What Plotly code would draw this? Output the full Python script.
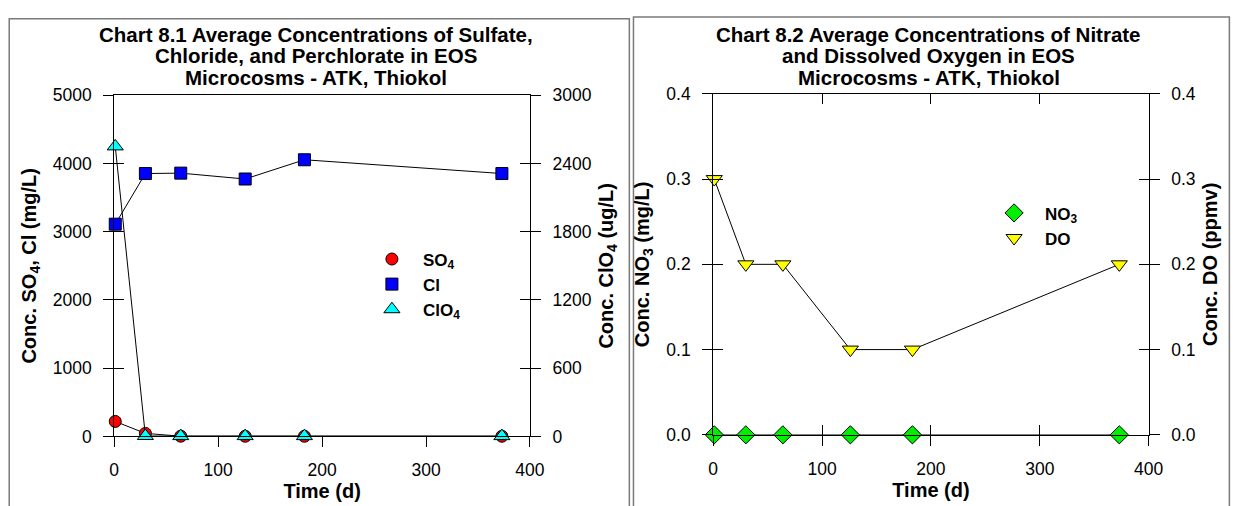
import plotly.graph_objects as go

# Sampling times (days) shared by both charts
time_d = [1, 30, 64, 126, 183, 373]

# Chart 8.1: sulfate and chloride (mg/L, left axis), perchlorate (ug/L, right axis)
so4_mg_l = [220, 45, 4, 3, 3, 3]
cl_mg_l = [3110, 3852, 3858, 3772, 4054, 3852]
clo4_ug_l = [2550, 4, 3, 3, 3, 3]

# Chart 8.2: nitrate (mg/L, left axis), dissolved oxygen (ppmv, right axis)
no3_mg_l = [0.0, 0.0, 0.0, 0.0, 0.0, 0.0]
do_ppmv = [0.3, 0.2, 0.2, 0.1, 0.1, 0.2]

# Tick values
x_ticks = [0, 100, 200, 300, 400]
left_ticks_81 = [0, 1000, 2000, 3000, 4000, 5000]
right_ticks_81 = [0, 600, 1200, 1800, 2400, 3000]
ticks_82 = [0.0, 0.1, 0.2, 0.3, 0.4]

title_81 = ["Chart 8.1 Average Concentrations of Sulfate,",
            "Chloride, and Perchlorate in EOS",
            "Microcosms - ATK, Thiokol"]
title_82 = ["Chart 8.2 Average Concentrations of Nitrate",
            "and Dissolved Oxygen in EOS",
            "Microcosms - ATK, Thiokol"]

W, H = 1249, 506
FONT = "Liberation Sans, Arial, sans-serif"


def px_x(p):
    return p / W


def px_y(p):
    return 1 - p / H


def tick_font():
    return dict(family=FONT, size=17.5, color="black")


def title_font():
    return dict(family=FONT, size=20, color="black")


def axis(**kw):
    base = dict(showgrid=False, zeroline=False, showline=True,
                linecolor="black", linewidth=1,
                ticks="outside", ticklen=10, tickwidth=1, tickcolor="black",
                tickfont=tick_font(), ticklabelstandoff=8, tickmode="array")
    base.update(kw)
    return base


def inner_ticks(**kw):
    # second set of tick marks pointing into the plot, so ticks cross the axis line
    base = dict(showgrid=False, zeroline=False, showline=False,
                ticks="inside", ticklen=10, tickwidth=1, tickcolor="black",
                showticklabels=False, tickmode="array")
    base.update(kw)
    return base


fig = go.Figure()

# ---- Chart 8.1 connecting lines
line_style = dict(color="black", width=1)
fig.add_trace(go.Scatter(x=time_d, y=so4_mg_l, mode="lines", line=line_style,
                         xaxis="x", yaxis="y", showlegend=False, cliponaxis=False,
                         hoverinfo="skip"))
fig.add_trace(go.Scatter(x=time_d, y=cl_mg_l, mode="lines", line=line_style,
                         xaxis="x", yaxis="y", showlegend=False, cliponaxis=False,
                         hoverinfo="skip"))
fig.add_trace(go.Scatter(x=time_d, y=clo4_ug_l, mode="lines", line=line_style,
                         xaxis="x", yaxis="y2", showlegend=False, cliponaxis=False,
                         hoverinfo="skip"))

# ---- Chart 8.1 markers
outline = dict(color="black", width=1)
fig.add_trace(go.Scatter(x=time_d, y=so4_mg_l, mode="markers", name="<b>SO<sub>4</sub></b>",
                         marker=dict(symbol="circle", size=12, color="#ff0000", line=outline),
                         xaxis="x", yaxis="y", legend="legend", cliponaxis=False))
fig.add_trace(go.Scatter(x=time_d, y=cl_mg_l, mode="markers", name="<b>Cl</b>",
                         marker=dict(symbol="square", size=12, color="#0000ff", line=outline),
                         xaxis="x", yaxis="y", legend="legend", cliponaxis=False))
fig.add_trace(go.Scatter(x=time_d, y=clo4_ug_l, mode="markers", name="<b>ClO<sub>4</sub></b>",
                         marker=dict(symbol="triangle-up", size=14, color="#00ffff", line=outline),
                         xaxis="x", yaxis="y2", legend="legend", cliponaxis=False))

# ---- Chart 8.2 connecting lines
fig.add_trace(go.Scatter(x=time_d, y=no3_mg_l, mode="lines", line=line_style,
                         xaxis="x2", yaxis="y3", showlegend=False, cliponaxis=False,
                         hoverinfo="skip"))
fig.add_trace(go.Scatter(x=time_d, y=do_ppmv, mode="lines", line=line_style,
                         xaxis="x2", yaxis="y4", showlegend=False, cliponaxis=False,
                         hoverinfo="skip"))

# ---- Chart 8.2 markers
fig.add_trace(go.Scatter(x=time_d, y=no3_mg_l, mode="markers", name="<b>NO<sub>3</sub></b>",
                         marker=dict(symbol="diamond", size=14, color="#00ee00", line=outline),
                         xaxis="x2", yaxis="y3", legend="legend2", cliponaxis=False))
fig.add_trace(go.Scatter(x=time_d, y=do_ppmv, mode="markers", name="<b>DO</b>",
                         marker=dict(symbol="triangle-down", size=14, color="#ffff00", line=outline),
                         xaxis="x2", yaxis="y4", legend="legend2", cliponaxis=False))

# empty traces that tie the inward tick axes to their subplots
for xa, ya in [("x", "y5"), ("x", "y6"), ("x3", "y3"), ("x2", "y7"), ("x2", "y8")]:
    fig.add_trace(go.Scatter(x=[], y=[], xaxis=xa, yaxis=ya, showlegend=False,
                             hoverinfo="skip"))

dom_x1 = [px_x(111), px_x(533.5)]
dom_y1 = [px_y(444), px_y(88.7)]
dom_x2 = [px_x(719.7), px_x(1162.3)]
dom_y2 = [px_y(442.3), px_y(87.3)]

fig.update_layout(
    width=W, height=H, autosize=False,
    margin=dict(l=0, r=0, t=0, b=0),
    paper_bgcolor="white", plot_bgcolor="rgba(0,0,0,0)",
    font=dict(family=FONT, color="black"),
    # Chart 8.1 axes
    xaxis=axis(domain=dom_x1, anchor="y", range=[0, 400], tickvals=x_ticks,
               mirror=True,
               title=dict(text="<b>Time (d)</b>", font=title_font(), standoff=2)),
    yaxis=axis(domain=dom_y1, anchor="x", range=[0, 5000], tickvals=left_ticks_81,
               tickformat="d",
               title=dict(text="<b>Conc. SO<sub>4</sub>, Cl (mg/L)</b>", font=title_font(),
                          standoff=10)),
    yaxis2=axis(overlaying="y", side="right", anchor="x", range=[0, 3000],
                tickvals=right_ticks_81, tickformat="d",
                title=dict(text="<b>Conc. ClO<sub>4</sub> (ug/L)</b>", font=title_font(),
                           standoff=8)),
    yaxis5=inner_ticks(overlaying="y", side="left", anchor="x", range=[0, 5000],
                       tickvals=left_ticks_81),
    yaxis6=inner_ticks(overlaying="y", side="right", anchor="x", range=[0, 3000],
                       tickvals=right_ticks_81),
    # Chart 8.2 axes
    xaxis2=axis(domain=dom_x2, anchor="y3", range=[0, 400], tickvals=x_ticks,
                mirror=True,
                title=dict(text="<b>Time (d)</b>", font=title_font(), standoff=2)),
    xaxis3=inner_ticks(overlaying="x2", side="bottom", anchor="y3", range=[0, 400],
                       tickvals=x_ticks, mirror="ticks"),
    yaxis3=axis(domain=dom_y2, anchor="x2", range=[0, 0.4], tickvals=ticks_82,
                tickformat=".1f",
                title=dict(text="<b>Conc. NO<sub>3</sub> (mg/L)</b>", font=title_font(),
                           standoff=11)),
    yaxis4=axis(overlaying="y3", side="right", anchor="x2", range=[0, 0.4],
                tickvals=ticks_82, tickformat=".1f",
                title=dict(text="<b>Conc. DO (ppmv)</b>", font=title_font(), standoff=8)),
    yaxis7=inner_ticks(overlaying="y3", side="left", anchor="x2", range=[0, 0.4],
                       tickvals=ticks_82),
    yaxis8=inner_ticks(overlaying="y3", side="right", anchor="x2", range=[0, 0.4],
                       tickvals=ticks_82),
    legend=dict(x=px_x(361.7), y=px_y(241), xanchor="left", yanchor="top",
                bgcolor="rgba(0,0,0,0)", borderwidth=0, itemwidth=52,
                font=dict(family=FONT, size=17, color="black")),
    legend2=dict(x=px_x(994), y=px_y(193), xanchor="left", yanchor="top",
                 bgcolor="rgba(0,0,0,0)", borderwidth=0, itemwidth=52,
                 font=dict(family=FONT, size=17, color="black")),
    showlegend=True,
    hovermode=False,
)

# Panel frames
frame = dict(color="#7a7a7a", width=1.5)
fig.add_shape(type="rect", xref="paper", yref="paper",
              x0=px_x(4.3), x1=px_x(634.5), y0=px_y(520), y1=px_y(9), line=frame)
fig.add_shape(type="rect", xref="paper", yref="paper",
              x0=px_x(638.7), x1=px_x(1244.3), y0=px_y(520), y1=px_y(7.3), line=frame)

# Three-line chart titles
line_centres = [25, 47.5, 70.5]
for text, yc in zip(title_81, line_centres):
    fig.add_annotation(text=f"<b>{text}</b>", xref="paper", yref="paper",
                       x=px_x(316), y=px_y(yc), xanchor="center", yanchor="middle",
                       showarrow=False, font=dict(family=FONT, size=20.5, color="black"))
for text, yc in zip(title_82, line_centres):
    fig.add_annotation(text=f"<b>{text}</b>", xref="paper", yref="paper",
                       x=px_x(939), y=px_y(yc), xanchor="center", yanchor="middle",
                       showarrow=False, font=dict(family=FONT, size=20.5, color="black"))

# the figure fills the whole page: drop the default body margin
fig.write_html("out.html", config={"displayModeBar": False},
               post_script="document.body.style.margin='0';"
                           "document.body.style.overflow='hidden';")
